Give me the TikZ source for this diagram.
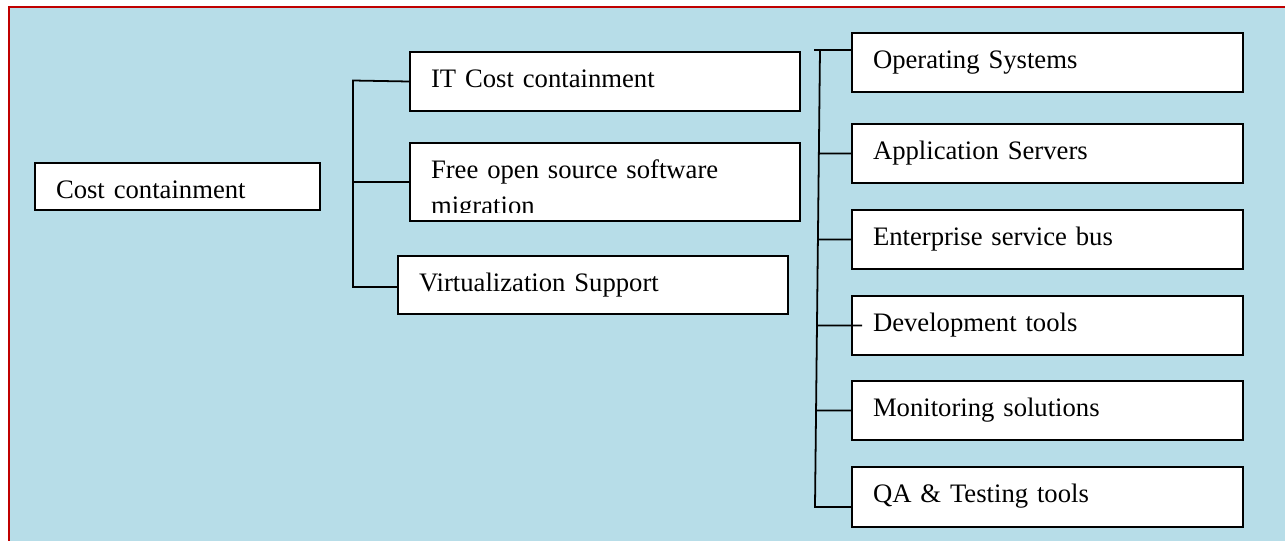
\documentclass[tikz,border=0pt]{standalone}
\usepackage{fontspec}
\setmainfont{Liberation Serif}
\definecolor{panelblue}{RGB}{183,221,232}
\definecolor{framered}{RGB}{192,0,0}

\begin{document}
\begin{tikzpicture}[x=0.45pt, y=-0.45pt,
  box/.style={draw, fill=white, line width=0.9pt, anchor=north west,
    inner xsep=9.45pt, inner ysep=0pt, text height=16pt, text depth=10.55pt,
    text width=157pt, align=left, font=\fontsize{12}{14}\selectfont},
  link/.style={line width=0.8pt}]
  \useasboundingbox (0,0) rectangle (1285,541);
  % panel
  \fill[panelblue] (9,7) rectangle (1285,541);
  \draw[framered, line width=0.9pt] (1285,7) -- (9,7) -- (9,541);

  % left column
  \node[box, text width=109.35pt, text depth=5.15pt] (cost) at (34,162) {Cost containment};

  % middle column
  \node[box, text width=156.6pt] (itc) at (409,51) {IT Cost containment};
  \node[box, text width=156.6pt, text depth=19.1pt] (foss) at (409,142) {Free open source software\\[2pt]migration};
  % second line runs out of the text area
  \fill[white] ([shift={(2.5,-2)}]foss.south west) rectangle ([shift={(-2.5,-9)}]foss.south east);
  \node[box, text width=156.6pt, text depth=10.1pt] (virt) at (397,255) {Virtualization Support};

  % right column
  \node[box] (os) at (851,32) {Operating Systems};
  \node[box] (apps) at (851,123) {Application Servers};
  \node[box] (esb) at (851,209) {Enterprise service bus};
  \node[box] (dev) at (851,295) {Development tools};
  \node[box] (mon) at (851,380) {Monitoring solutions};
  \node[box, text depth=11pt] (qa) at (851,466) {QA \& Testing tools};

  % left tree
  \coordinate (ltop) at (353,80.5);
  \coordinate (lbot) at (353,287);
  \draw[link] (itc.west) -- (ltop) -- (lbot) -- (lbot -| virt.west);
  \draw[link] (foss.west) -- (foss.west -| ltop);

  % right tree
  \coordinate (rtop) at (820,50);
  \coordinate (rbot) at (815,507);
  \coordinate (rtick) at (814,50);
  \draw[link] (rtop) -- (rbot) -- (rbot -| qa.west);
  \draw[link] (rtick) -- (rtick -| os.west);
  \foreach \n in {apps, esb, mon}
    \draw[link] (intersection of rtop--rbot and \n.west--\n.east) -- (\n.west);
  \draw[link] (intersection of rtop--rbot and dev.west--dev.east) -- (dev.west) -- ++(11,0);
\end{tikzpicture}
\end{document}
